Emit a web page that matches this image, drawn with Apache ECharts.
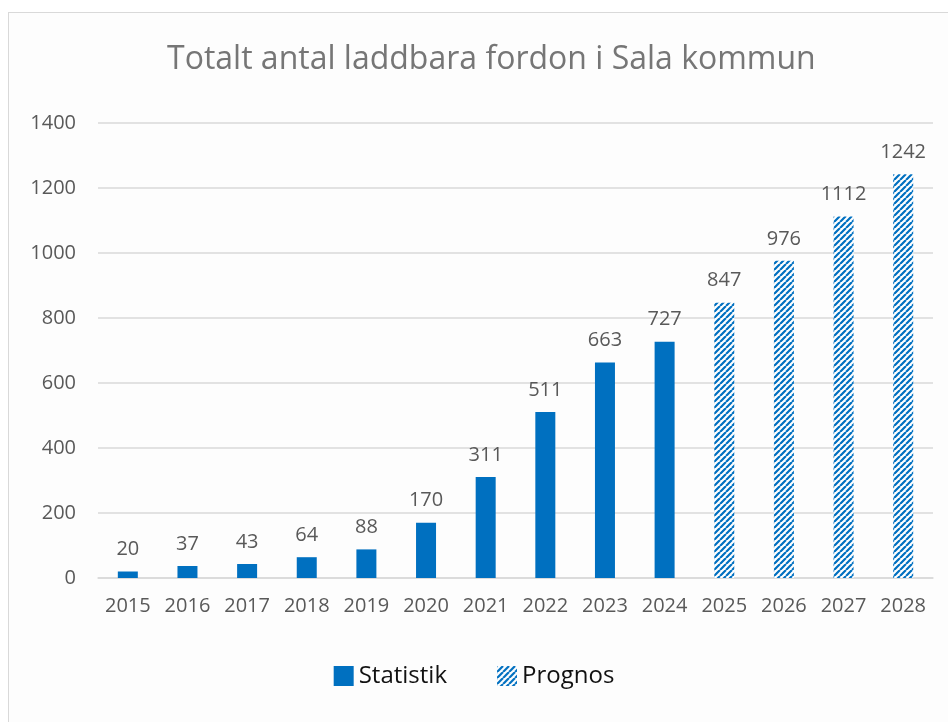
<!DOCTYPE html>
<html>
<head>
<meta charset="utf-8">
<script src="https://cdn.jsdelivr.net/npm/echarts@6/dist/echarts.min.js"></script>
<style>
  html, body { margin: 0; padding: 0; background: #fff; }
  #frame { position: absolute; left: 8px; top: 12px; width: 960px; height: 730px; border: 1px solid #d9d9d9; background: #fdfdfd; }
  #chart { position: absolute; left: 0; top: 0; width: 948px; height: 722px; }
</style>
</head>
<body>
<div id="frame"></div>
<div id="chart"></div>
<script>
const years = ['2015', '2016', '2017', '2018', '2019', '2020', '2021', '2022', '2023', '2024', '2025', '2026', '2027', '2028']
const statistik = [20, 37, 43, 64, 88, 170, 311, 511, 663, 727, null, null, null, null]
const prognos = [null, null, null, null, null, null, null, null, null, null, 847, 976, 1112, 1242]

const blue = '#0070c0'

// diagonal hatch for the forecast bars
function hatch () {
  const c = document.createElement('canvas')
  c.width = 6
  c.height = 6
  const ctx = c.getContext('2d')
  ctx.fillStyle = '#ffffff'
  ctx.fillRect(0, 0, 6, 6)
  ctx.strokeStyle = blue
  ctx.lineWidth = 2.2
  ctx.beginPath()
  for (let k = -6; k <= 12; k += 6) {
    ctx.moveTo(k, 6)
    ctx.lineTo(k + 6, 0)
  }
  ctx.stroke()
  return c
}

const chart = echarts.init(document.getElementById('chart'), null, { renderer: 'canvas' })
const font = '"Open Sans", "Noto Sans", sans-serif'

chart.setOption({
  animation: false,
  textStyle: { fontFamily: font },
  title: {
    text: 'Totalt antal laddbara fordon i Sala kommun',
    left: 162,
    top: 39,
    textStyle: { fontFamily: font, fontSize: 32, fontWeight: 'normal', color: '#767676' }
  },
  legend: {
    bottom: 29,
    left: 'center',
    itemGap: 50,
    itemWidth: 20,
    itemHeight: 20,
    icon: 'rect',
    textStyle: { fontSize: 24, color: '#111', fontFamily: font },
    data: ['Statistik', 'Prognos']
  },
  grid: { left: 98, right: 15, top: 123, bottom: 144 },
  xAxis: {
    type: 'category',
    data: years,
    axisLine: { lineStyle: { color: '#d9d9d9', width: 1.5 } },
    axisTick: { show: false },
    axisLabel: { color: '#595959', fontSize: 20, margin: 18 }
  },
  yAxis: {
    type: 'value',
    min: 0,
    max: 1400,
    interval: 200,
    axisLine: { show: false },
    axisTick: { show: false },
    splitLine: { lineStyle: { color: '#d9d9d9', width: 1.5 } },
    axisLabel: { color: '#595959', fontSize: 20, margin: 22, formatter: (v) => String(v) }
  },
  series: [
    {
      name: 'Statistik',
      type: 'bar',
      data: statistik,
      barWidth: 20,
      barGap: '-100%',
      itemStyle: { color: blue },
      label: { show: true, position: 'top', distance: 12, color: '#595959', fontSize: 20 }
    },
    {
      name: 'Prognos',
      type: 'bar',
      data: prognos,
      barWidth: 20,
      itemStyle: { color: { image: hatch(), repeat: 'repeat' } },
      label: { show: true, position: 'top', distance: 12, color: '#595959', fontSize: 20 }
    }
  ]
})
</script>
</body>
</html>
